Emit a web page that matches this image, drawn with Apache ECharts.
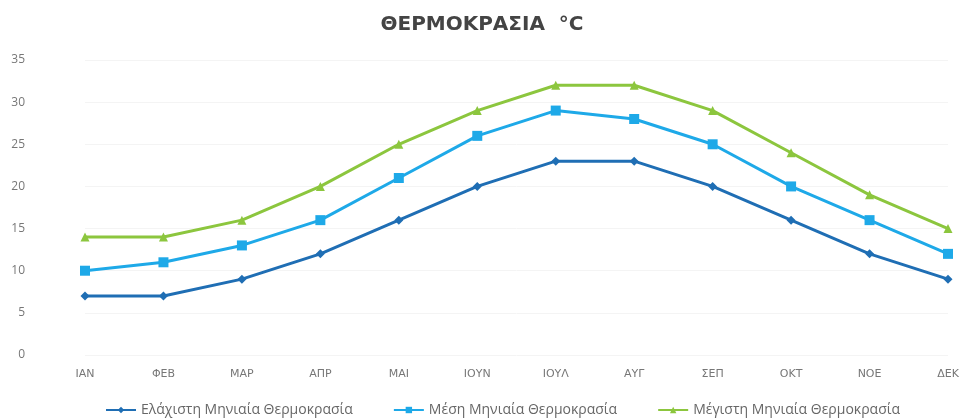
<!DOCTYPE html>
<html>
<head>
<meta charset="utf-8">
<script src="https://cdn.jsdelivr.net/npm/echarts@6/dist/echarts.min.js"></script>
<style>
  html, body { margin: 0; padding: 0; background: #fff; }
  #main { width: 964px; height: 419px; }
</style>
</head>
<body>
<div id="main"></div>
<script>
var months = ['ΙΑΝ', 'ΦΕΒ', 'ΜΑΡ', 'ΑΠΡ', 'ΜΑΙ', 'ΙΟΥΝ', 'ΙΟΥΛ', 'ΑΥΓ', 'ΣΕΠ', 'ΟΚΤ', 'ΝΟΕ', 'ΔΕΚ'];
var minTemp = [7, 7, 9, 12, 16, 20, 23, 23, 20, 16, 12, 9];
var meanTemp = [10, 11, 13, 16, 21, 26, 29, 28, 25, 20, 16, 12];
var maxTemp = [14, 14, 16, 20, 25, 29, 32, 32, 29, 24, 19, 15];

var chartDom = document.getElementById('main');
var myChart = echarts.init(chartDom);
var option;

var font = 'Open Sans';

option = {
    animation: false,
    title: {
        text: 'ΘΕΡΜΟΚΡΑΣΙΑ  °C',
        left: 'center',
        top: 10,
        textStyle: {
            fontFamily: 'DejaVu Sans',
            fontSize: 20,
            fontWeight: 'bold',
            color: '#444'
        }
    },
    legend: {
        top: 398,
        left: 100,
        itemGap: 40,
        itemWidth: 30,
        itemHeight: 8,
        textStyle: { fontFamily: font, fontSize: 14, color: '#666' },
        data: ['Ελάχιστη Μηνιαία Θερμοκρασία', 'Μέση Μηνιαία Θερμοκρασία', 'Μέγιστη Μηνιαία Θερμοκρασία']
    },
    grid: {
        left: 85,
        right: 16,
        top: 60,
        bottom: 64
    },
    xAxis: {
        type: 'category',
        data: months,
        boundaryGap: false,
        axisLine: { show: false },
        axisTick: { show: false },
        axisLabel: {
            margin: 14,
            fontFamily: 'DejaVu Sans',
            fontSize: 11,
            color: '#777'
        }
    },
    yAxis: {
        type: 'value',
        min: 0,
        max: 35,
        interval: 5,
        axisLabel: {
            fontFamily: font,
            fontSize: 12,
            color: '#777',
            margin: 60
        },
        splitLine: { show: true, lineStyle: { color: '#f4f4f4' } }
    },
    series: [
        {
            name: 'Ελάχιστη Μηνιαία Θερμοκρασία',
            type: 'line',
            data: minTemp,
            symbol: 'diamond',
            symbolSize: 9,
            color: '#1f6eb4',
            lineStyle: { width: 3 }
        },
        {
            name: 'Μέση Μηνιαία Θερμοκρασία',
            type: 'line',
            data: meanTemp,
            symbol: 'rect',
            symbolSize: 10,
            color: '#1ea9e8',
            lineStyle: { width: 3 }
        },
        {
            name: 'Μέγιστη Μηνιαία Θερμοκρασία',
            type: 'line',
            data: maxTemp,
            symbol: 'triangle',
            symbolSize: 9,
            color: '#8cc63e',
            lineStyle: { width: 3 }
        }
    ]
};

option && myChart.setOption(option);
</script>
</body>
</html>
